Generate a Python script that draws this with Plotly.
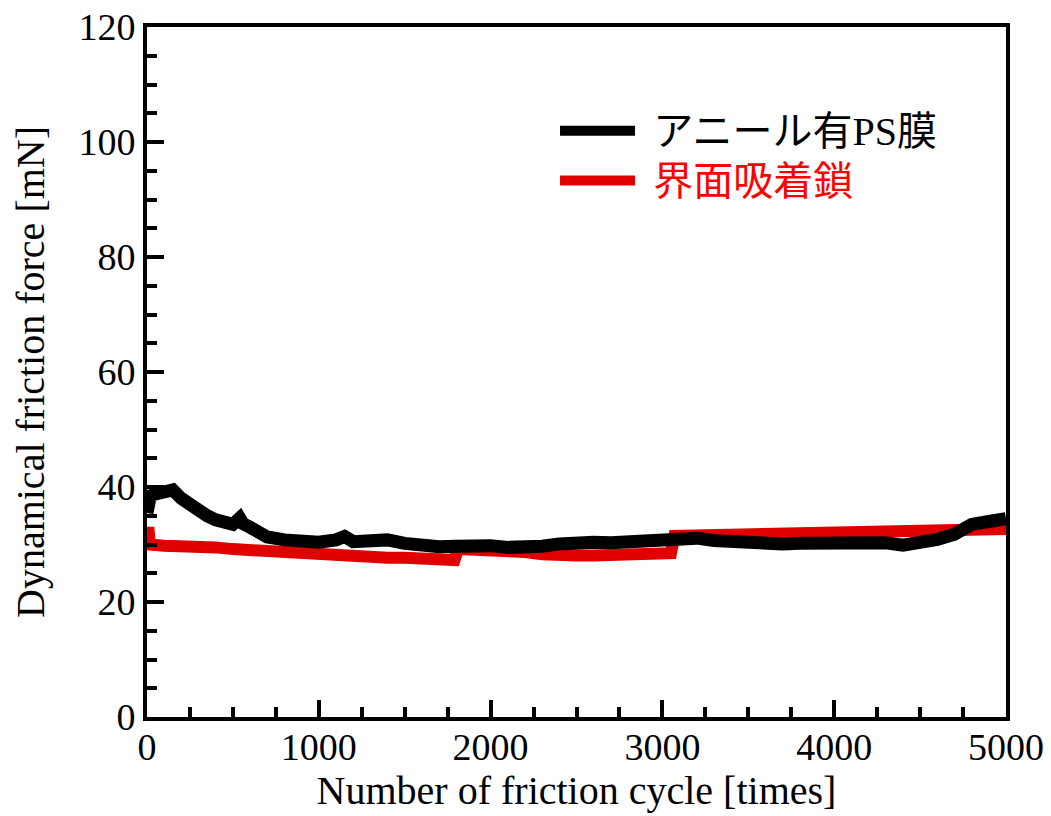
import plotly.graph_objects as go

# Data
cycles_ps = [0, 20, 50, 100, 150, 200, 250, 300, 350, 400, 450, 500, 540, 560, 600, 650, 700,
             800, 900, 1000, 1100, 1150, 1200, 1300, 1400, 1500, 1600, 1700, 1800, 1900,
             2000, 2100, 2200, 2300, 2400, 2500, 2600, 2700, 2800, 2900, 3000, 3100, 3200,
             3300, 3400, 3500, 3600, 3700, 3800, 3900, 4000, 4100, 4200, 4300, 4400, 4500,
             4600, 4700, 4800, 4900, 5000]
force_ps = [35.5, 38.5, 38.8, 39.3, 39.5, 38.0, 36.8, 35.8, 35.0, 34.3, 33.6, 33.5, 34.6, 33.6,
            33.0, 32.0, 31.3, 30.8, 30.4, 30.4, 30.8, 31.4, 30.5, 30.5, 30.8, 30.2, 29.7,
            29.6, 29.7, 29.9, 29.8, 29.5, 29.4, 29.7, 30.1, 30.4, 30.4, 30.3, 30.4, 30.7,
            31.0, 31.2, 31.1, 30.7, 30.5, 30.1, 30.0, 30.1, 30.2, 30.3, 30.4, 30.3, 30.6,
            30.3, 29.9, 30.3, 30.9, 31.8, 33.5, 34.0, 34.5]

cycles_chain = [0, 8, 16, 100, 200, 300, 400, 500, 600, 700, 800, 900, 1000, 1100, 1200,
                1300, 1400, 1500, 1600, 1700, 1790, 1810, 1900, 2000, 2100, 2200, 2300,
                2400, 2500, 2600, 2700, 2800, 2900, 3000, 3050, 3070, 3200, 3400, 3600,
                3800, 4000, 4200, 4400, 4600, 4800, 5000]
force_chain = [29.5, 33.0, 30.0, 29.8, 29.8, 29.7, 29.5, 29.2, 29.0, 28.7, 28.5, 28.3, 28.0,
               27.8, 27.6, 27.8, 27.7, 27.7, 27.6, 27.4, 27.3, 29.2, 29.2, 29.0, 28.8, 28.7,
               28.3, 28.0, 28.1, 28.1, 28.2, 28.2, 28.3, 28.4, 28.5, 31.5, 31.6, 31.5, 31.7,
               32.0, 32.2, 32.3, 32.4, 32.8, 32.8, 32.7]

name_ps = "アニール有PS膜"
name_chain = "界面吸着鎖"
x_title = "Number of friction cycle [times]"
y_title = "Dynamical friction force [mN]"

FONT = "Liberation Serif, Times New Roman, Noto Sans CJK JP, serif"
PAD = "\u00a0\u200a"

fig = go.Figure()
fig.add_trace(go.Scatter(
    x=cycles_chain, y=force_chain, mode="lines",
    line=dict(color="#e00000", width=12),
    name='<span style="color:#ff0000;font-size:40px">' + PAD + name_chain + "</span>",
))
fig.add_trace(go.Scatter(
    x=cycles_ps, y=force_ps, mode="lines",
    line=dict(color="#000000", width=13),
    name='<span style="font-size:40px">' + PAD + name_ps + "</span>",
))

axis_common = dict(
    showline=True, linecolor="black", linewidth=4, mirror=True,
    ticks="inside", ticklen=17, tickwidth=4, tickcolor="black",
    showgrid=False, zeroline=False, automargin=False,
    tickfont=dict(family=FONT, size=38, color="black"),
    title_font=dict(family=FONT, size=40, color="black"),
)

fig.update_xaxes(
    range=[0, 5000], tickvals=[0, 1000, 2000, 3000, 4000, 5000],
    minor=dict(dtick=250, ticks="inside", ticklen=10, tickwidth=4, tickcolor="black", showgrid=False),
    title_text=x_title, title_standoff=6, ticklabelstandoff=-7, **axis_common,
)
fig.update_yaxes(
    range=[0, 120], tickvals=[0, 20, 40, 60, 80, 100, 120],
    minor=dict(dtick=5, ticks="inside", ticklen=10, tickwidth=4, tickcolor="black", showgrid=False),
    title_text=y_title, title_standoff=22, **axis_common,
)

fig.update_layout(
    width=1051, height=816,
    margin=dict(l=147, r=45, t=27, b=99),
    plot_bgcolor="white", paper_bgcolor="white",
    font=dict(family=FONT, color="black"),
    legend=dict(
        x=0.475, y=0.893, xanchor="left", yanchor="top",
        traceorder="reversed",
        bgcolor="rgba(0,0,0,0)",
        font=dict(family=FONT, size=36, color="black"),
        itemwidth=75,
        tracegroupgap=0,
    ),
)

fig.write_html("out.html")
